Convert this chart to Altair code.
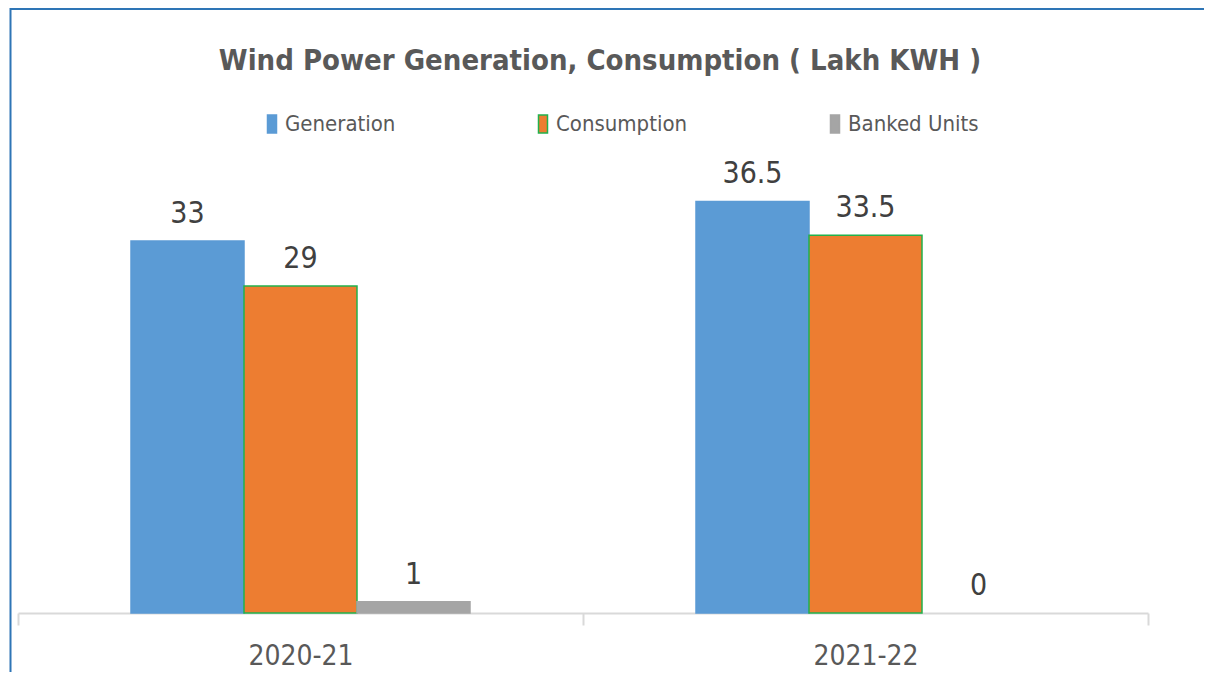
import altair as alt
import pandas as pd

years = ["2020-21", "2021-22"]
series = ["Generation", "Consumption", "Banked Units"]
generation = [33, 36.5]
consumption = [29, 33.5]
banked = [1, 0]

fill_colors = ["#5b9bd5", "#ed7d31", "#a5a5a5"]
stroke_colors = ["#5b9bd5", "#22b14c", "#a5a5a5"]

rows = []
for i, y in enumerate(years):
    for s, vals in zip(series, [generation, consumption, banked]):
        rows.append({"year": y, "series": s, "value": vals[i]})
df = pd.DataFrame(rows)

FONT = "DejaVu Sans Condensed, DejaVu Sans, sans-serif"

base = alt.Chart(df).encode(
    x=alt.X("year:N", sort=years,
            scale=alt.Scale(paddingInner=0, paddingOuter=0),
            axis=alt.Axis(title=None, labelAngle=0, domainColor="#d9d9d9", domainWidth=2,
                          tickColor="#d9d9d9", tickWidth=2, tickSize=12, tickBand="extent",
                          labelFont=FONT, labelFontSize=28, labelColor="#595959",
                          labelPadding=17)),
    xOffset=alt.XOffset("series:N", sort=series,
                        scale=alt.Scale(paddingInner=0, paddingOuter=1)),
    y=alt.Y("value:Q", scale=alt.Scale(domain=[0, 40], nice=False), axis=None),
)

bars = base.mark_bar().encode(
    fill=alt.Fill("series:N", sort=series,
                  scale=alt.Scale(domain=series, range=fill_colors),
                  legend=alt.Legend(title=None, orient="none", direction="horizontal",
                                    legendX=243, legendY=-49,
                                    symbolType="M-0.5,-1H0.5V1H-0.5Z", symbolSize=324,
                                    symbolStrokeWidth=1.5,
                                    labelFont=FONT, labelFontSize=22, labelColor="#595959",
                                    labelOffset=2, columnPadding=136)),
    stroke=alt.Stroke("series:N", sort=series,
                      scale=alt.Scale(domain=series, range=stroke_colors),
                      legend=None),
    strokeWidth=alt.condition("datum.value > 0", alt.value(1.5), alt.value(0)),
)

labels = base.mark_text(baseline="alphabetic", dy=-18, font=FONT, fontSize=30,
                        color="#404040").encode(
    text=alt.Text("value:Q", format="~g")
)

border = alt.Chart(pd.DataFrame({"k": [0]})).mark_rect(
    fill="transparent", stroke="#2e75b6", strokeWidth=2
).encode(
    x=alt.value(-7.5), y=alt.value(-153), x2=alt.value(1250), y2=alt.value(700)
)

chart = alt.layer(border, bars, labels).properties(
    width=1130, height=451,
    padding={"left": 10, "top": 154, "right": 56, "bottom": 59},
    autosize=alt.AutoSizeParams(type="none"),
    title=alt.TitleParams("Wind Power Generation, Consumption ( Lakh KWH )",
                          font=FONT, fontSize=29, fontWeight="bold", color="#595959",
                          anchor="middle", dx=17, offset=-68),
).configure_view(stroke=None)

chart.save("out.html", embed_options={"renderer": "svg", "actions": False})
